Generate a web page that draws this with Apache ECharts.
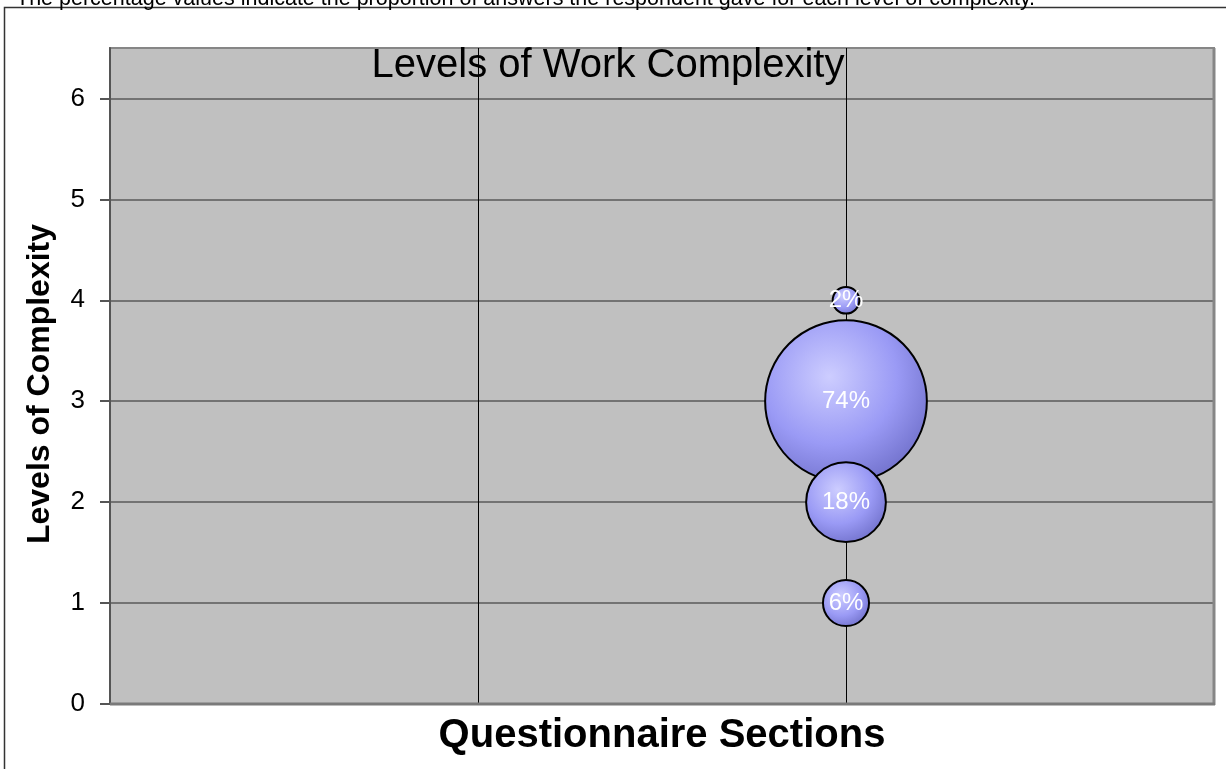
<!DOCTYPE html>
<html>
<head>
<meta charset="utf-8">
<script src="https://cdn.jsdelivr.net/npm/echarts@6/dist/echarts.min.js"></script>
<style>
html,body{margin:0;padding:0;background:#fff;}
#chart{width:1226px;height:769px;}
</style>
</head>
<body>
<div id="chart"></div>
<script>
// complexity levels and the share of answers for each
var levels = [1, 2, 3, 4];
var percents = [6, 18, 74, 2];
var section = 2;
var yTicks = [0, 1, 2, 3, 4, 5, 6];

var points = [];
for (var i = 0; i < levels.length; i++) {
	points.push([section, levels[i], percents[i]]);
}
// big bubbles first so small ones sit on top
points.sort(function(a, b){ return b[2] - a[2]; });

var bubbleFill = {
	type: 'radial', x: 0.4, y: 0.35, r: 0.75,
	colorStops: [
		{offset: 0, color: '#cdcdff'},
		{offset: 0.55, color: '#9a9af5'},
		{offset: 1, color: '#6a6ac4'}
	]
};

var font = '"Liberation Sans", Arial, sans-serif';
var chart = echarts.init(document.getElementById('chart'));
chart.setOption({
	backgroundColor: '#fff',
	animation: false,
	grid: {
		left: 110, top: 48, right: 12, bottom: 65,
		show: true, backgroundColor: '#c0c0c0',
		borderColor: '#868686', borderWidth: 2
	},
	graphic: [
		{type: 'rect', shape: {x: 4.5, y: 7.5, width: 1300, height: 900},
			style: {fill: 'none', stroke: '#333', lineWidth: 1.5}, z: -1},
		{type: 'line', shape: {x1: 1214, y1: 48, x2: 1214, y2: 705},
			style: {stroke: '#868686', lineWidth: 3}, z: 10},
		{type: 'line', shape: {x1: 110, y1: 704, x2: 1215, y2: 704},
			style: {stroke: '#7a7a7a', lineWidth: 3}, z: 10},
		{type: 'text', left: 16, top: -12,
			style: {text: 'The percentage values indicate the proportion of answers the respondent gave for each level of complexity.',
				font: '21.5px ' + font, fill: '#000'}},
		{type: 'text', x: 608, y: 66,
			style: {text: 'Levels of Work Complexity', font: '40px ' + font, fill: '#000',
				textAlign: 'center', textVerticalAlign: 'middle'}, z: 5},
		{type: 'text', x: 662, y: 736,
			style: {text: 'Questionnaire Sections', font: 'bold 40px ' + font, fill: '#000',
				textAlign: 'center', textVerticalAlign: 'middle'}},
		{type: 'text', x: 40, y: 384, rotation: Math.PI / 2,
			style: {text: 'Levels of Complexity', font: 'bold 32px ' + font, fill: '#000',
				textAlign: 'center', textVerticalAlign: 'middle'}}
	],
	xAxis: {
		type: 'value', min: 0, max: 3, interval: 1,
		axisLine: {show: false}, axisTick: {show: false}, axisLabel: {show: false},
		splitLine: {show: true, lineStyle: {color: '#000', width: 1}}
	},
	yAxis: {
		type: 'value', min: 0, max: 6.5, interval: 1,
		axisLine: {show: true, lineStyle: {color: '#555', width: 2}},
		axisTick: {show: true, length: 10, customValues: yTicks, lineStyle: {color: '#555', width: 2}},
		axisLabel: {margin: 25, fontSize: 26, color: '#000', fontFamily: font, customValues: yTicks},
		splitLine: {show: true, lineStyle: {color: '#5a5a5a', width: 1.5}}
	},
	series: [{
		type: 'scatter',
		data: points,
		symbolSize: function(v){ return 18.8 * Math.sqrt(v[2]); },
		itemStyle: {color: bubbleFill, borderColor: '#000', borderWidth: 2, opacity: 1},
		label: {
			show: true, position: 'inside', color: '#fff', fontSize: 24, fontFamily: font,
			formatter: function(p){ return p.value[2] + '%'; }
		},
		emphasis: {disabled: true}
	}]
});
</script>
</body>
</html>
